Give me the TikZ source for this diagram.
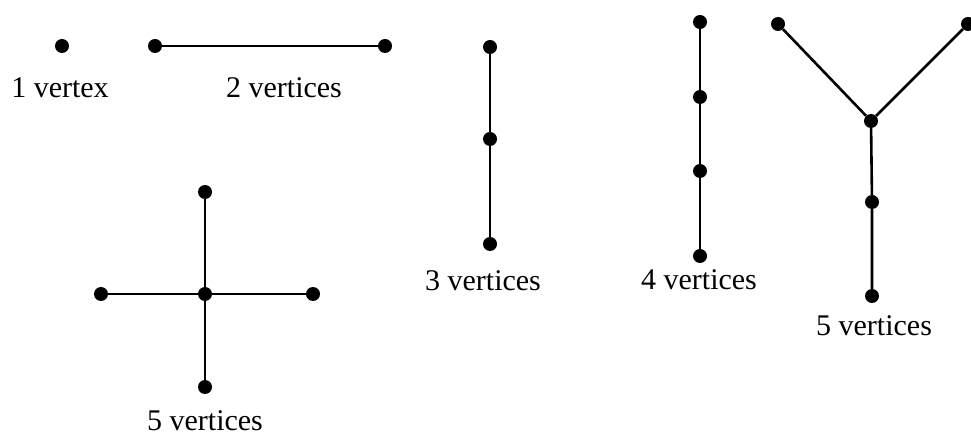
\documentclass[tikz,border=0pt]{standalone}
\usepackage{fontspec}
\setmainfont{Liberation Serif}
\begin{document}
\begin{tikzpicture}[x=1pt,y=-1pt,
  vtx/.style={circle,fill=black,inner sep=0pt,minimum size=14pt},
  edge/.style={line width=2.6pt},
  lbl/.style={font=\fontsize{30}{36}\selectfont,anchor=base,inner sep=0pt}]
\useasboundingbox (0,0) rectangle (971,435);
\clip (0,0) rectangle (971,435);
% 1 vertex
\node[vtx] (a1) at (62,46) {};
\node[lbl] (la) at (60,98) {1 vertex};
% 2 vertices
\node[vtx] (b1) at (155,46) {};
\node[vtx] (b2) at (385,46) {};
\draw[edge] (b1) -- (b2);
\node[lbl] (lb) at (284,98) {2 vertices};
% 3 vertices
\node[vtx] (c1) at (490,47) {};
\node[vtx] (c2) at (490,139) {};
\node[vtx] (c3) at (490,244) {};
\draw[edge] (c1) -- (c2) -- (c3);
\node[lbl] (lc) at (483,291) {3 vertices};
% 4 vertices
\node[vtx] (d1) at (700,22) {};
\node[vtx] (d2) at (700,97) {};
\node[vtx] (d3) at (700,171) {};
\node[vtx] (d4) at (700,256) {};
\draw[edge] (d1) -- (d2) -- (d3) -- (d4);
\node[lbl] (ld) at (699,290) {4 vertices};
% 5 vertices Y
\node[vtx] (e1) at (778,24) {};
\node[vtx] (e2) at (968,24) {};
\node[vtx] (e3) at (871,121) {};
\node[vtx] (e4) at (872,202) {};
\node[vtx] (e5) at (872,296) {};
\draw[edge] (e1) -- (e3) -- (e2);
\draw[edge] (e3) -- (e4) -- (e5);
\node[lbl] (le) at (874,335) {5 vertices};
% 5 vertices cross
\node[vtx] (f0) at (205,294) {};
\node[vtx] (f1) at (205,192) {};
\node[vtx] (f2) at (101,294) {};
\node[vtx] (f3) at (313,294) {};
\node[vtx] (f4) at (205,387) {};
\draw[edge] (f1) -- (f0) -- (f4);
\draw[edge] (f2) -- (f0) -- (f3);
\node[lbl] (lf) at (205,430) {5 vertices};
\end{tikzpicture}
\end{document}
